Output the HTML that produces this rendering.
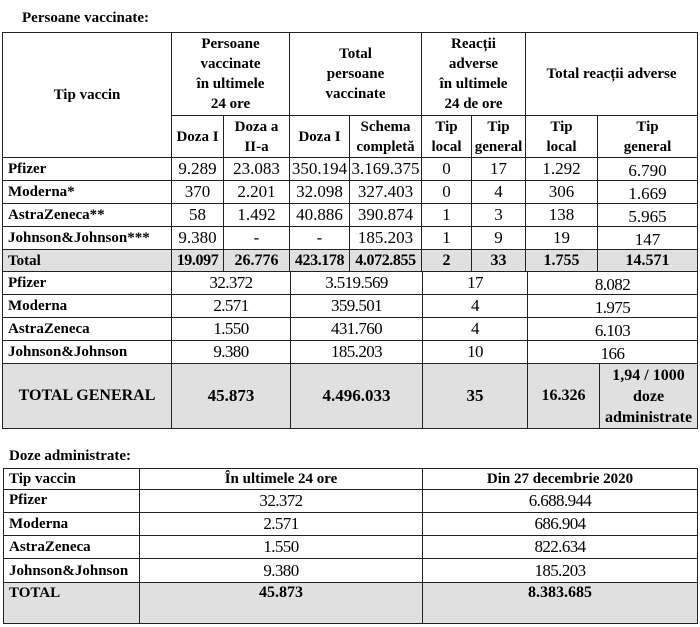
<!DOCTYPE html>
<html><head><meta charset="utf-8"><style>
body{margin:0;width:700px;height:627px;background:#fff;position:relative;overflow:hidden;font-family:"Liberation Serif",serif;color:#000}
.c{position:absolute;box-sizing:border-box;border:1px solid #222;display:flex;align-items:center;justify-content:center;text-align:center;font-size:17px;line-height:20px;white-space:nowrap}
.b{font-weight:bold;font-size:15px}
.l{justify-content:flex-start;padding-left:5px}
.g{background:#e0e0e0}
.n{font-size:17px;letter-spacing:-0.6px}
.t{position:absolute;font-weight:bold;font-size:15px}
.bb{font-weight:bold;font-size:16px}
</style></head><body>
<div class="t" style="left:22px;top:10px">Persoane vaccinate:</div>
<div class="c b" style="left:2px;top:32px;width:170px;height:126px">Tip vaccin</div>
<div class="c b" style="left:171px;top:32px;width:119px;height:84px">Persoane<br>vaccinate<br>în ultimele<br>24 ore</div>
<div class="c b" style="left:289px;top:32px;width:133px;height:84px">Total<br>persoane<br>vaccinate</div>
<div class="c b" style="left:421px;top:32px;width:105px;height:84px">Reacții<br>adverse<br>în ultimele<br>24 de ore</div>
<div class="c b" style="left:525px;top:32px;width:173px;height:84px">Total reacții adverse</div>
<div class="c b" style="left:171px;top:115px;width:53px;height:43px">Doza I</div>
<div class="c b" style="left:223px;top:115px;width:67px;height:43px">Doza a<br>II-a</div>
<div class="c b" style="left:289px;top:115px;width:61px;height:43px">Doza I</div>
<div class="c b" style="left:349px;top:115px;width:73px;height:43px">Schema<br>completă</div>
<div class="c b" style="left:421px;top:115px;width:51px;height:43px">Tip<br>local</div>
<div class="c b" style="left:471px;top:115px;width:55px;height:43px">Tip<br>general</div>
<div class="c b" style="left:525px;top:115px;width:73px;height:43px">Tip<br>local</div>
<div class="c b" style="left:597px;top:115px;width:101px;height:43px">Tip<br>general</div>

<div class="c b l" style="left:2px;top:157px;width:170px;height:24px">Pfizer</div>
<div class="c" style="left:171px;top:157px;width:53px;height:24px">9.289</div>
<div class="c" style="left:223px;top:157px;width:67px;height:24px">23.083</div>
<div class="c" style="left:289px;top:157px;width:61px;height:24px">350.194</div>
<div class="c" style="left:349px;top:157px;width:73px;height:24px">3.169.375</div>
<div class="c" style="left:421px;top:157px;width:51px;height:24px">0</div>
<div class="c" style="left:471px;top:157px;width:55px;height:24px">17</div>
<div class="c" style="left:525px;top:157px;width:73px;height:24px">1.292</div>
<div class="c" style="left:597px;top:157px;width:101px;height:24px;padding-top:3px">6.790</div>

<div class="c b l" style="left:2px;top:180px;width:170px;height:24px">Moderna*</div>
<div class="c" style="left:171px;top:180px;width:53px;height:24px">370</div>
<div class="c" style="left:223px;top:180px;width:67px;height:24px">2.201</div>
<div class="c" style="left:289px;top:180px;width:61px;height:24px">32.098</div>
<div class="c" style="left:349px;top:180px;width:73px;height:24px">327.403</div>
<div class="c" style="left:421px;top:180px;width:51px;height:24px">0</div>
<div class="c" style="left:471px;top:180px;width:55px;height:24px">4</div>
<div class="c" style="left:525px;top:180px;width:73px;height:24px">306</div>
<div class="c" style="left:597px;top:180px;width:101px;height:24px;padding-top:3px">1.669</div>

<div class="c b l" style="left:2px;top:203px;width:170px;height:24px">AstraZeneca**</div>
<div class="c" style="left:171px;top:203px;width:53px;height:24px">58</div>
<div class="c" style="left:223px;top:203px;width:67px;height:24px">1.492</div>
<div class="c" style="left:289px;top:203px;width:61px;height:24px">40.886</div>
<div class="c" style="left:349px;top:203px;width:73px;height:24px">390.874</div>
<div class="c" style="left:421px;top:203px;width:51px;height:24px">1</div>
<div class="c" style="left:471px;top:203px;width:55px;height:24px">3</div>
<div class="c" style="left:525px;top:203px;width:73px;height:24px">138</div>
<div class="c" style="left:597px;top:203px;width:101px;height:24px;padding-top:3px">5.965</div>

<div class="c b l" style="left:2px;top:226px;width:170px;height:24px">Johnson&amp;Johnson***</div>
<div class="c" style="left:171px;top:226px;width:53px;height:24px">9.380</div>
<div class="c" style="left:223px;top:226px;width:67px;height:24px">-</div>
<div class="c" style="left:289px;top:226px;width:61px;height:24px">-</div>
<div class="c" style="left:349px;top:226px;width:73px;height:24px">185.203</div>
<div class="c" style="left:421px;top:226px;width:51px;height:24px">1</div>
<div class="c" style="left:471px;top:226px;width:55px;height:24px">9</div>
<div class="c" style="left:525px;top:226px;width:73px;height:24px">19</div>
<div class="c" style="left:597px;top:226px;width:101px;height:24px;padding-top:3px">147</div>

<div class="c b l g" style="left:2px;top:249px;width:170px;height:23px">Total</div>
<div class="c bb g" style="left:171px;top:249px;width:53px;height:23px;letter-spacing:-0.4px">19.097</div>
<div class="c bb g" style="left:223px;top:249px;width:67px;height:23px">26.776</div>
<div class="c bb g" style="left:289px;top:249px;width:61px;height:23px;letter-spacing:-0.4px">423.178</div>
<div class="c bb g" style="left:349px;top:249px;width:73px;height:23px;letter-spacing:-0.4px">4.072.855</div>
<div class="c bb g" style="left:421px;top:249px;width:51px;height:23px">2</div>
<div class="c bb g" style="left:471px;top:249px;width:55px;height:23px">33</div>
<div class="c bb g" style="left:525px;top:249px;width:73px;height:23px">1.755</div>
<div class="c bb g" style="left:597px;top:249px;width:101px;height:23px">14.571</div>

<div class="c b l" style="left:2px;top:271px;width:170px;height:24px">Pfizer</div>
<div class="c n" style="left:171px;top:271px;width:120px;height:24px">32.372</div>
<div class="c n" style="left:290px;top:271px;width:133px;height:24px">3.519.569</div>
<div class="c n" style="left:422px;top:271px;width:106px;height:24px">17</div>
<div class="c n" style="left:527px;top:271px;width:171px;height:24px;padding-top:3px">8.082</div>

<div class="c b l" style="left:2px;top:294px;width:170px;height:24px">Moderna</div>
<div class="c n" style="left:171px;top:294px;width:120px;height:24px">2.571</div>
<div class="c n" style="left:290px;top:294px;width:133px;height:24px">359.501</div>
<div class="c n" style="left:422px;top:294px;width:106px;height:24px">4</div>
<div class="c n" style="left:527px;top:294px;width:171px;height:24px;padding-top:3px">1.975</div>

<div class="c b l" style="left:2px;top:317px;width:170px;height:24px">AstraZeneca</div>
<div class="c n" style="left:171px;top:317px;width:120px;height:24px">1.550</div>
<div class="c n" style="left:290px;top:317px;width:133px;height:24px">431.760</div>
<div class="c n" style="left:422px;top:317px;width:106px;height:24px">4</div>
<div class="c n" style="left:527px;top:317px;width:171px;height:24px;padding-top:3px">6.103</div>

<div class="c b l" style="left:2px;top:340px;width:170px;height:24px">Johnson&amp;Johnson</div>
<div class="c n" style="left:171px;top:340px;width:120px;height:24px">9.380</div>
<div class="c n" style="left:290px;top:340px;width:133px;height:24px">185.203</div>
<div class="c n" style="left:422px;top:340px;width:106px;height:24px">10</div>
<div class="c n" style="left:527px;top:340px;width:171px;height:24px;padding-top:3px">166</div>

<div class="c g" style="left:2px;top:363px;width:170px;height:66px;font-weight:bold;font-size:16px">TOTAL GENERAL</div>
<div class="c bb g" style="left:171px;top:363px;width:120px;height:66px;font-size:17px">45.873</div>
<div class="c bb g" style="left:290px;top:363px;width:133px;height:66px;font-size:17px">4.496.033</div>
<div class="c bb g" style="left:422px;top:363px;width:106px;height:66px;font-size:17px">35</div>
<div class="c bb g" style="left:527px;top:363px;width:73px;height:66px">16.326</div>
<div class="c bb g" style="left:599px;top:363px;width:99px;height:66px;line-height:21px">1,94 / 1000<br>doze<br>administrate</div>

<div class="t" style="left:9px;top:448px">Doze administrate:</div>
<div class="c b l" style="left:3px;top:468px;width:137px;height:22px">Tip vaccin</div>
<div class="c b" style="left:139px;top:468px;width:284px;height:22px">În ultimele 24 ore</div>
<div class="c b" style="left:422px;top:468px;width:276px;height:22px">Din 27 decembrie 2020</div>

<div class="c b l" style="left:3px;top:489px;width:137px;height:24px;align-items:flex-start">Pfizer</div>
<div class="c n" style="left:139px;top:489px;width:284px;height:24px">32.372</div>
<div class="c n" style="left:422px;top:489px;width:276px;height:24px">6.688.944</div>

<div class="c b l" style="left:3px;top:512px;width:137px;height:24px">Moderna</div>
<div class="c n" style="left:139px;top:512px;width:284px;height:24px">2.571</div>
<div class="c n" style="left:422px;top:512px;width:276px;height:24px">686.904</div>

<div class="c b l" style="left:3px;top:535px;width:137px;height:24px">AstraZeneca</div>
<div class="c n" style="left:139px;top:535px;width:284px;height:24px">1.550</div>
<div class="c n" style="left:422px;top:535px;width:276px;height:24px">822.634</div>

<div class="c b l" style="left:3px;top:558px;width:137px;height:25px">Johnson&amp;Johnson</div>
<div class="c n" style="left:139px;top:558px;width:284px;height:25px">9.380</div>
<div class="c n" style="left:422px;top:558px;width:276px;height:25px">185.203</div>

<div class="c b l g" style="left:3px;top:582px;width:137px;height:42px;align-items:flex-start">TOTAL</div>
<div class="c bb g" style="left:139px;top:582px;width:284px;height:42px;align-items:flex-start">45.873</div>
<div class="c bb g" style="left:422px;top:582px;width:276px;height:42px;align-items:flex-start">8.383.685</div>
</body></html>
